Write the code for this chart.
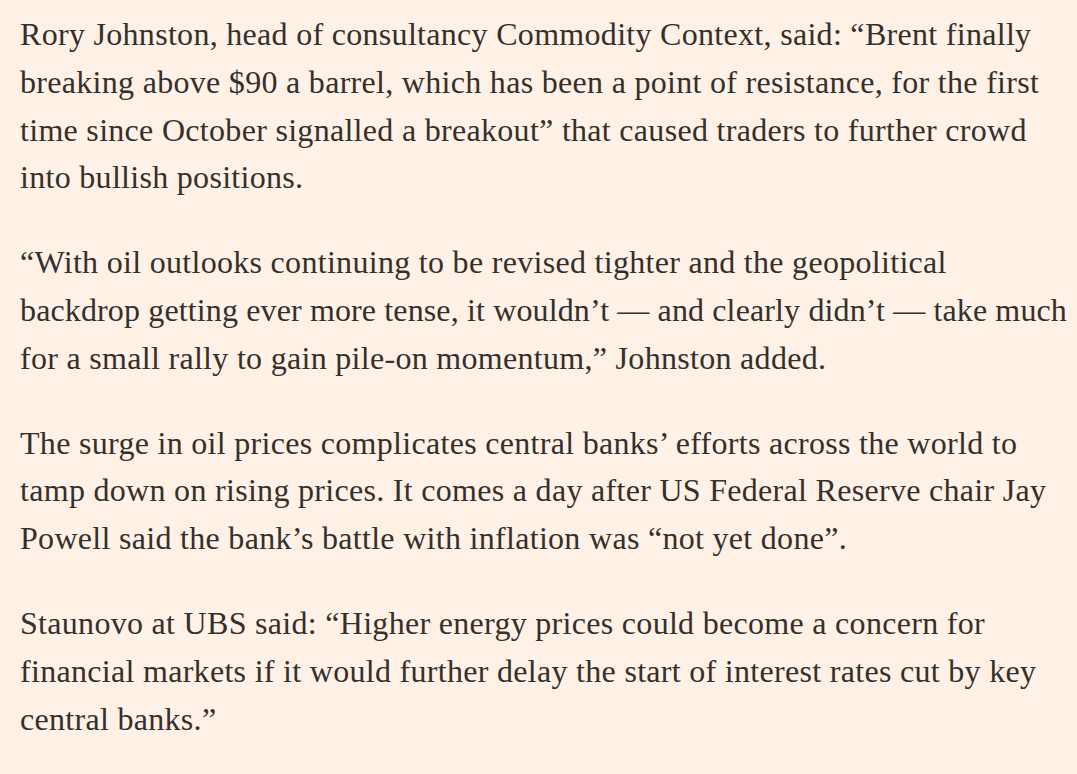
<!DOCTYPE html>
<html>
<head>
<meta charset="utf-8">
<script src="https://cdn.jsdelivr.net/npm/chart.js@4"></script>
<style>
  html, body { margin: 0; padding: 0; background: #fff1e5; }
  body { width: 1077px; height: 774px; overflow: hidden; }
  #article {
    position: absolute; left: 20px; top: 11px;
    font-family: "Liberation Serif", "DejaVu Serif", serif;
    font-size: 32px; letter-spacing: 0.3px; line-height: 47.8px; color: #33302e;
  }
  #article p { margin: 0 0 37px 0; white-space: nowrap; }
</style>
</head>
<body>
<div id="article"></div>
<script>
// paragraphs, one entry per visual line as wrapped in the original
const para1 = [
  "Rory Johnston, head of consultancy Commodity Context, said: \u201cBrent finally",
  "breaking above $90 a barrel, which has been a point of resistance, for the first",
  "time since October signalled a breakout\u201d that caused traders to further crowd",
  "into bullish positions."
];
const para2 = [
  "\u201cWith oil outlooks continuing to be revised tighter and the geopolitical",
  "backdrop getting ever more tense, it wouldn\u2019t \u2014 and clearly didn\u2019t \u2014 take much",
  "for a small rally to gain pile-on momentum,\u201d Johnston added."
];
const para3 = [
  "The surge in oil prices complicates central banks\u2019 efforts across the world to",
  "tamp down on rising prices. It comes a day after US Federal Reserve chair Jay",
  "Powell said the bank\u2019s battle with inflation was \u201cnot yet done\u201d."
];
const para4 = [
  "Staunovo at UBS said: \u201cHigher energy prices could become a concern for",
  "financial markets if it would further delay the start of interest rates cut by key",
  "central banks.\u201d"
];

const maxLineWidth = 1047;

const article = document.getElementById("article");
[para1, para2, para3, para4].forEach(function (lines) {
  const p = document.createElement("p");
  lines.forEach(function (line, i) {
    if (i > 0) p.appendChild(document.createElement("br"));
    const span = document.createElement("span");
    span.textContent = line;
    p.appendChild(span);
  });
  article.appendChild(p);
});

// squeeze any line that runs past the right edge
document.querySelectorAll("#article span").forEach(function (span) {
  const w = span.getBoundingClientRect().width;
  if (w > maxLineWidth) {
    const extra = (w - maxLineWidth) / span.textContent.length;
    span.style.letterSpacing = (0.3 - extra) + "px";
  }
});
</script>
</body>
</html>
